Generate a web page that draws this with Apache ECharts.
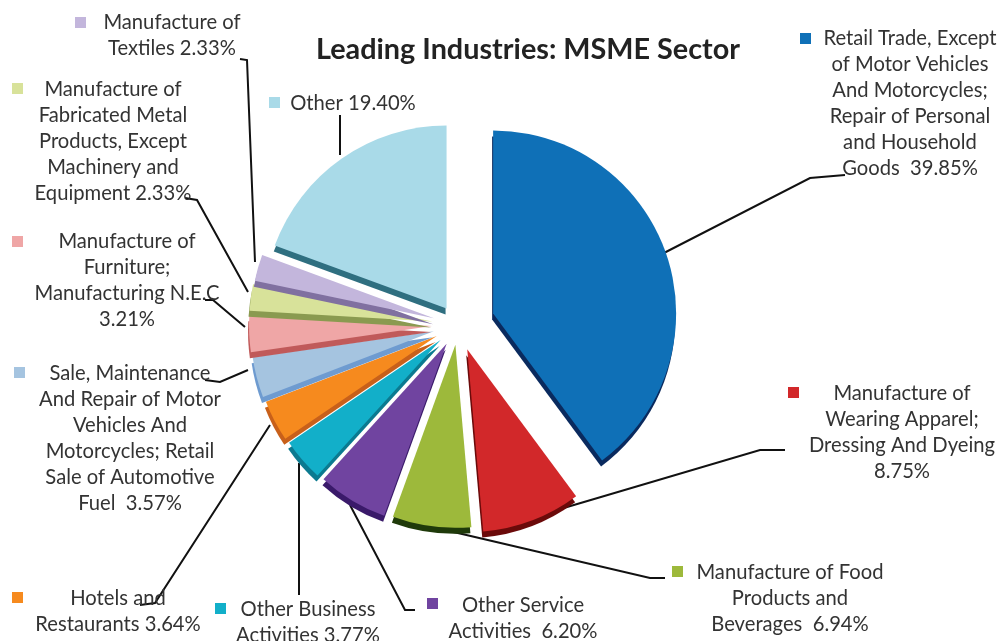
<!DOCTYPE html>
<html><head><meta charset="utf-8">
<style>html,body{margin:0;padding:0;background:#fff;overflow:hidden}#c{width:1003px;height:641px}</style>
<script src="https://cdn.jsdelivr.net/npm/echarts@6/dist/echarts.min.js"></script>
</head><body><div id="c"></div>
<script>
const names = ["Retail Trade, Except\nof Motor Vehicles\nAnd Motorcycles;\nRepair of Personal\nand Household\nGoods", "Manufacture of\nWearing Apparel;\nDressing And Dyeing\n", "Manufacture of Food\nProducts and\nBeverages", "Other Service\nActivities", "Other Business\nActivities", "Hotels and\nRestaurants", "Sale, Maintenance\nAnd Repair of Motor\nVehicles And\nMotorcycles; Retail\nSale of Automotive\nFuel", "Manufacture of\nFurniture;\nManufacturing N.E.C\n", "Manufacture of\nFabricated Metal\nProducts, Except\nMachinery and\nEquipment", "Manufacture of\nTextiles", "Other"];
const values = [39.85, 8.75, 6.94, 6.20, 3.77, 3.64, 3.57, 3.21, 2.33, 2.33, 19.40];
const separators = ["\u00a0 ", " ", "\u00a0 ", "\u00a0 ", " ", " ", "\u00a0 ", " ", " ", " ", " "];
const colors = ["#0F70B7", "#D2282A", "#9DB93B", "#7044A0", "#12AFC9", "#F68A1E", "#A5C4E0", "#EFA6A6", "#D8E29A", "#C3B6DC", "#A9DAE8"];
const edgeColors = ["#0A2A5E", "#6B0A0A", "#1F3A0A", "#3A1A6A", "#0B7A90", "#C8601A", "#6E9BD0", "#C05A5A", "#8A9A50", "#8070A0", "#2F6F80"];
const offsets = [37, 26, 20, 22, 23, 24, 25, 26, 26, 25, 20];
const labelCentres = [[910,103],[902,432],[790,598],[523,618],[308,622],[118,611],[130,438],[127,280],[113,141],[172,35],[353,103]];
const keyCorners = [[800,33],[788,387],[672,566],[427,598],[215,603],[12,592],[14,367],[12,236],[12,83],[75,17],[269,97]];
const leaders = [
 [[660,255],[810,178],[845,175]],
 [[540,515],[760,450],[785,450]],
 [[445,530],[650,578],[665,578]],
 [[350,505],[405,610],[415,610]],
 [[299,463],[299,595],[299,595]],
 [[270,425],[155,603],[140,605]],
 [[248,370],[220,382],[205,380]],
 [[245,327],[213,300],[205,300]],
 [[248,292],[197,200],[185,198]],
 [[255,262],[247,60],[240,59]],
 [[340,155],[340,115],[340,115]]
];
const fontName = 'Lato, "Open Sans", sans-serif';
const clear = 'rgba(0,0,0,0)';
const pieBase = {type:'pie',center:[458,325],radius:[0,183],startAngle:90,clockwise:true,silent:true};
const sliceSeries = names.map((_,s)=>({
  ...pieBase,
  selectedMode:'multiple',
  selectedOffset:offsets[s],
  label:{show:false}, labelLine:{show:false},
  data:names.map((n,i)=> i===s
    ? {name:n,value:values[i],selected:true,itemStyle:{color:colors[i],shadowColor:edgeColors[i],shadowOffsetY:6,shadowOffsetX:-1,shadowBlur:0}}
    : {name:n,value:values[i],itemStyle:{color:clear}})
}));
const labelSeries = {
  ...pieBase,
  data:names.map((n,i)=>({name:n,value:values[i],itemStyle:{color:clear}})),
  label:{
    show:true, position:'outside', fontFamily:fontName, fontSize:20.2, lineHeight:26, color:'#333', align:'center',
    formatter:p=>{
      const i=p.dataIndex, v=values[i].toFixed(2)+'%';
      return p.name.endsWith('\n')?p.name+v:p.name+separators[i]+v;
    }
  },
  labelLine:{show:true,lineStyle:{color:'#111',width:2}},
  labelLayout:p=>({
    x:labelCentres[p.dataIndex][0], y:labelCentres[p.dataIndex][1],
    align:'center', verticalAlign:'middle', hideOverlap:false,
    labelLinePoints:leaders[p.dataIndex]
  })
};
const chart = echarts.init(document.getElementById('c'), null, {renderer:'canvas'});
chart.setOption({
  animation:false,
  backgroundColor:'#fff',
  title:{text:'Leading Industries: MSME Sector',left:523,top:30,textAlign:'center',
    textStyle:{fontFamily:fontName,fontWeight:'bold',fontSize:28.8,color:'#222'}},
  legend: names.map((n,i)=>({
    data:[{name:n,itemStyle:{color:colors[i]}}], left:keyCorners[i][0], top:keyCorners[i][1], padding:0, itemWidth:11, itemHeight:11,
    icon:'rect', selectedMode:false, formatter:()=>'', textStyle:{fontSize:1}
  })),
  series:[...sliceSeries,labelSeries]
});
</script></body></html>
